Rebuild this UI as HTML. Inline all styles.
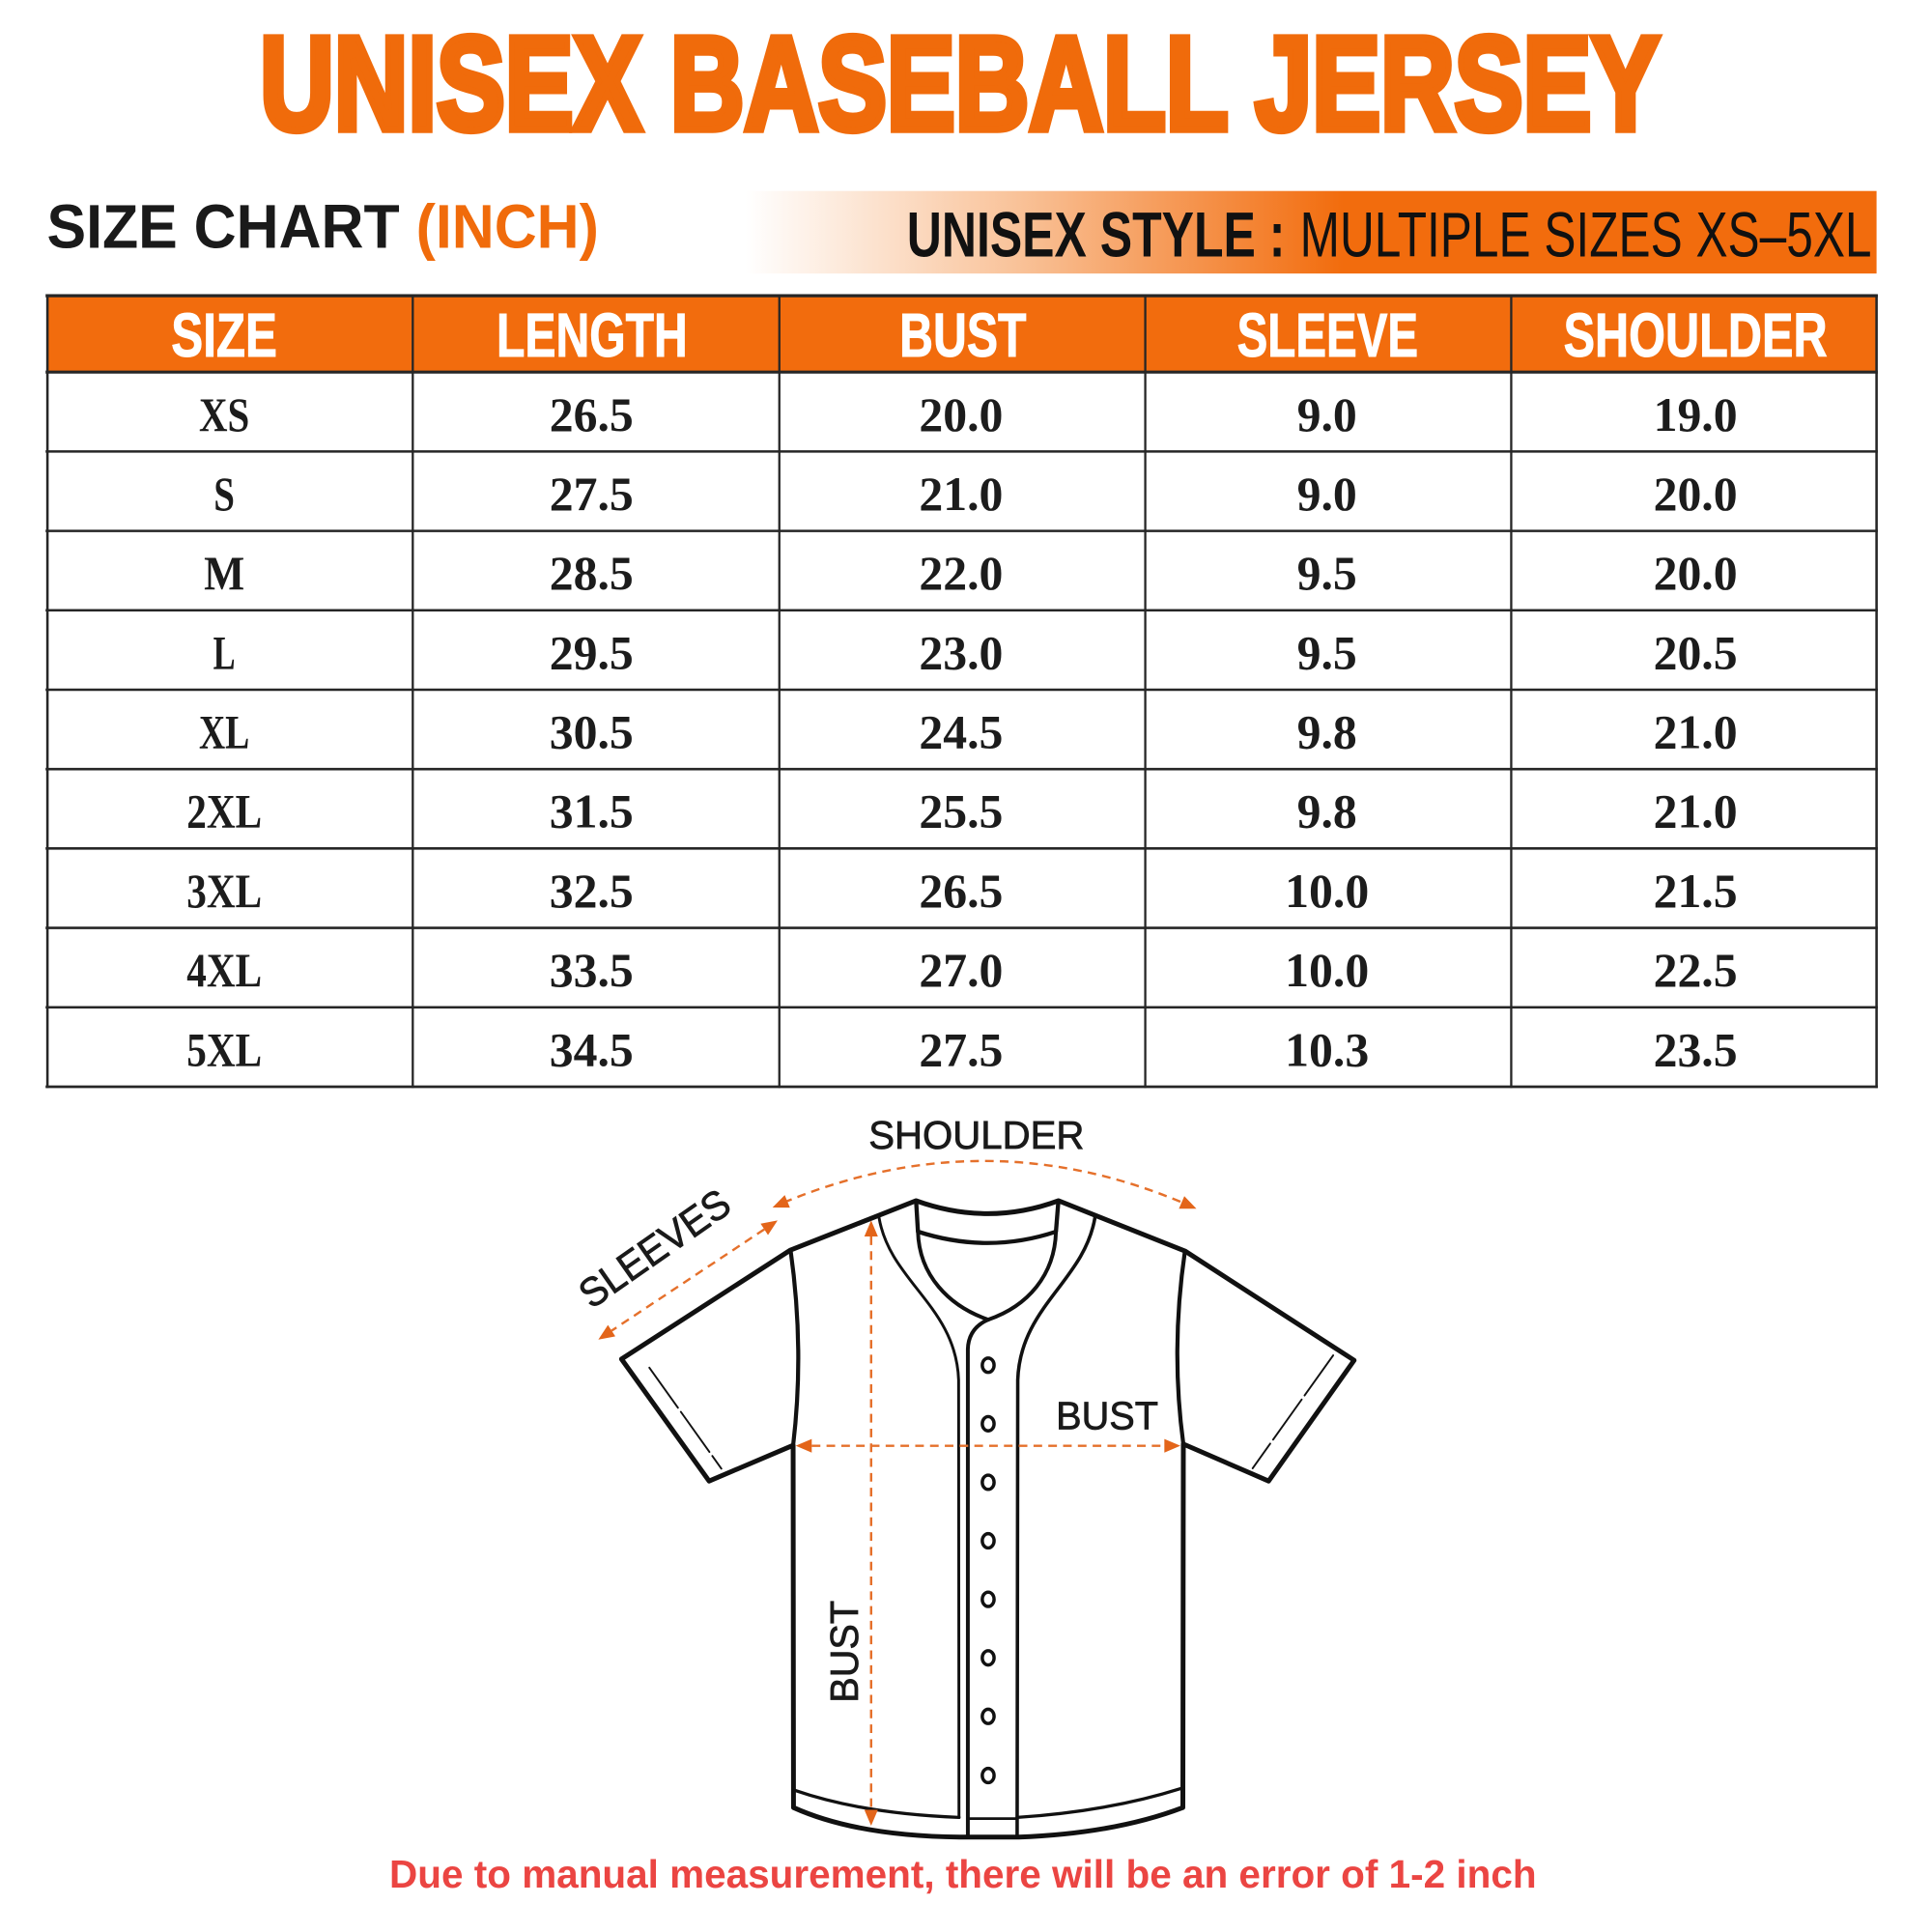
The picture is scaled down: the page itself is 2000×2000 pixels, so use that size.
<!DOCTYPE html>
<html>
<head>
<meta charset="utf-8">
<style>
html,body{margin:0;padding:0;background:#ffffff;width:2000px;height:2000px;overflow:hidden}
svg{display:block}
</style>
</head>
<body>
<svg width="2000" height="2000" viewBox="0 0 1568 1568" xmlns="http://www.w3.org/2000/svg">
<defs>
<linearGradient id="bar" gradientUnits="userSpaceOnUse" x1="605" y1="0" x2="1090" y2="0">
<stop offset="0" stop-color="#ffffff"/>
<stop offset="0.45" stop-color="#f9c39a"/>
<stop offset="1" stop-color="#f26c0d"/>
</linearGradient>
</defs>
<rect x="0" y="0" width="1568" height="1568" fill="#ffffff"/>

<!-- Title -->
<text x="211" y="105" font-family="'Liberation Sans', Arial, sans-serif" font-weight="bold" font-size="108" fill="#f06b0b" stroke="#f06b0b" stroke-width="6" stroke-linejoin="miter" textLength="1136" lengthAdjust="spacingAndGlyphs">UNISEX BASEBALL JERSEY</text>

<!-- Subtitle -->
<text x="38" y="201" font-family="'Liberation Sans', Arial, sans-serif" font-weight="bold" font-size="50" textLength="448" lengthAdjust="spacingAndGlyphs"><tspan fill="#1a1a1a">SIZE CHART </tspan><tspan fill="#f06b0b">(INCH)</tspan></text>

<!-- Gradient bar -->
<rect x="600" y="155" width="923" height="67" fill="url(#bar)"/>
<text x="736" y="208" font-family="'Liberation Sans', Arial, sans-serif" font-weight="bold" font-size="52" fill="#111111" textLength="307" lengthAdjust="spacingAndGlyphs">UNISEX STYLE :</text>
<text x="1055" y="208" font-family="'Liberation Sans', Arial, sans-serif" font-weight="normal" font-size="52" fill="#111111" textLength="464" lengthAdjust="spacingAndGlyphs">MULTIPLE SIZES XS–5XL</text>

<!-- Table header -->
<rect x="38" y="240" width="1485" height="62" fill="#f26c0d"/>
<g font-family="'Liberation Sans', Arial, sans-serif" font-weight="bold" font-size="50" fill="#ffffff" text-anchor="middle" stroke="#ffffff" stroke-width="0.8">
<text x="182" y="289.5" textLength="86" lengthAdjust="spacingAndGlyphs">SIZE</text>
<text x="480.5" y="289.5" textLength="155" lengthAdjust="spacingAndGlyphs">LENGTH</text>
<text x="781.5" y="289.5" textLength="103" lengthAdjust="spacingAndGlyphs">BUST</text>
<text x="1077.5" y="289.5" textLength="147" lengthAdjust="spacingAndGlyphs">SLEEVE</text>
<text x="1376" y="289.5" textLength="214" lengthAdjust="spacingAndGlyphs">SHOULDER</text>
</g>

<!-- Table grid -->
<g stroke="#262626" fill="none">
<line x1="37" y1="240" x2="1524" y2="240" stroke-width="2.6"/>
<line x1="37" y1="302" x2="1524" y2="302" stroke-width="2.4"/>
<line x1="37" y1="366.4" x2="1524" y2="366.4" stroke-width="2"/>
<line x1="37" y1="430.9" x2="1524" y2="430.9" stroke-width="2"/>
<line x1="37" y1="495.3" x2="1524" y2="495.3" stroke-width="2"/>
<line x1="37" y1="559.8" x2="1524" y2="559.8" stroke-width="2"/>
<line x1="37" y1="624.2" x2="1524" y2="624.2" stroke-width="2"/>
<line x1="37" y1="688.6" x2="1524" y2="688.6" stroke-width="2"/>
<line x1="37" y1="753.1" x2="1524" y2="753.1" stroke-width="2"/>
<line x1="37" y1="817.5" x2="1524" y2="817.5" stroke-width="2"/>
<line x1="37" y1="882" x2="1524" y2="882" stroke-width="2.2"/>
<line x1="38.5" y1="239" x2="38.5" y2="883" stroke-width="2"/>
<line x1="335" y1="239" x2="335" y2="883" stroke-width="1.8"/>
<line x1="632.5" y1="239" x2="632.5" y2="883" stroke-width="1.8"/>
<line x1="929.5" y1="239" x2="929.5" y2="883" stroke-width="1.8"/>
<line x1="1226.5" y1="239" x2="1226.5" y2="883" stroke-width="1.8"/>
<line x1="1523" y1="239" x2="1523" y2="883" stroke-width="2"/>
</g>

<!-- Table data -->
<g font-family="'Liberation Serif', 'Times New Roman', serif" font-weight="bold" font-size="39" fill="#1c1c1c" text-anchor="middle">
<text x="182" y="349.5" textLength="41" lengthAdjust="spacingAndGlyphs">XS</text>
<text x="480" y="349.5">26.5</text><text x="780" y="349.5">20.0</text><text x="1077" y="349.5">9.0</text><text x="1376" y="349.5">19.0</text>

<text x="182" y="413.9" textLength="17" lengthAdjust="spacingAndGlyphs">S</text>
<text x="480" y="413.9">27.5</text><text x="780" y="413.9">21.0</text><text x="1077" y="413.9">9.0</text><text x="1376" y="413.9">20.0</text>

<text x="182" y="478.4" textLength="33" lengthAdjust="spacingAndGlyphs">M</text>
<text x="480" y="478.4">28.5</text><text x="780" y="478.4">22.0</text><text x="1077" y="478.4">9.5</text><text x="1376" y="478.4">20.0</text>

<text x="182" y="542.8" textLength="18" lengthAdjust="spacingAndGlyphs">L</text>
<text x="480" y="542.8">29.5</text><text x="780" y="542.8">23.0</text><text x="1077" y="542.8">9.5</text><text x="1376" y="542.8">20.5</text>

<text x="182" y="607.3" textLength="41" lengthAdjust="spacingAndGlyphs">XL</text>
<text x="480" y="607.3">30.5</text><text x="780" y="607.3">24.5</text><text x="1077" y="607.3">9.8</text><text x="1376" y="607.3">21.0</text>

<text x="182" y="671.7" textLength="61" lengthAdjust="spacingAndGlyphs">2XL</text>
<text x="480" y="671.7">31.5</text><text x="780" y="671.7">25.5</text><text x="1077" y="671.7">9.8</text><text x="1376" y="671.7">21.0</text>

<text x="182" y="736.1" textLength="61" lengthAdjust="spacingAndGlyphs">3XL</text>
<text x="480" y="736.1">32.5</text><text x="780" y="736.1">26.5</text><text x="1077" y="736.1">10.0</text><text x="1376" y="736.1">21.5</text>

<text x="182" y="800.6" textLength="61" lengthAdjust="spacingAndGlyphs">4XL</text>
<text x="480" y="800.6">33.5</text><text x="780" y="800.6">27.0</text><text x="1077" y="800.6">10.0</text><text x="1376" y="800.6">22.5</text>

<text x="182" y="865" textLength="61" lengthAdjust="spacingAndGlyphs">5XL</text>
<text x="480" y="865">34.5</text><text x="780" y="865">27.5</text><text x="1077" y="865">10.3</text><text x="1376" y="865">23.5</text>
</g>

<!-- Jersey drawing -->
<g fill="none" stroke="#111111" stroke-linejoin="round" stroke-linecap="round">
<!-- outline -->
<path d="M743.5 974.5 L641.6 1014.5 L504.4 1103 L575.5 1202 L643.7 1173 L644 1467 Q695 1490 778.7 1491 L827 1491 Q905 1488 960 1467 L960.4 1172 L1029.6 1202 L1099 1104 L961.7 1015.3 L859 974.5 Q802 995.5 743.5 974.5 Z" stroke-width="3.9" fill="#ffffff"/>
<!-- body sides upper -->
<path d="M641.6 1014.5 Q653 1095 643.7 1173" stroke-width="3.3"/>
<path d="M961.7 1015.3 Q950 1095 960.4 1172" stroke-width="3.3"/>
<!-- collar -->
<path d="M743.5 974.5 L745 999.6 Q802 1018 857 999.6 L859 974.5" stroke-width="3.4"/>
<path d="M745 999.6 C746 1035 770 1060 802 1071" stroke-width="3.1"/>
<path d="M857 999.6 C856 1035 834 1060 802 1071" stroke-width="3.1"/>
<!-- placket -->
<path d="M713.4 988 C722 1040 776 1060 778 1120 L778.3 1475" stroke-width="2.3"/>
<path d="M802 1071 Q786 1078 785.5 1095 L785.5 1491" stroke-width="3.1"/>
<path d="M888.7 988 C880 1040 828 1060 826 1120 L825.5 1491" stroke-width="2.8"/>
<path d="M785.5 1476 L825.5 1476" stroke-width="2.2"/>
<!-- inner hem -->
<path d="M645 1453 Q700 1472 778.3 1475" stroke-width="2.6"/>
<path d="M957.8 1451.7 Q900 1470 825.5 1475" stroke-width="2.6"/>
<!-- sleeve hems -->
<path d="M527 1110 L585.5 1192" stroke-width="1.5" stroke-dasharray="40 4"/>
<path d="M1082 1100 L1016.6 1191.7" stroke-width="1.5" stroke-dasharray="40 4"/>
<!-- buttons -->
<g stroke-width="2.7">
<ellipse cx="802" cy="1108" rx="4.8" ry="5.8"/>
<ellipse cx="802" cy="1155.5" rx="4.8" ry="5.8"/>
<ellipse cx="802" cy="1203" rx="4.8" ry="5.8"/>
<ellipse cx="802" cy="1250.5" rx="4.8" ry="5.8"/>
<ellipse cx="802" cy="1298" rx="4.8" ry="5.8"/>
<ellipse cx="802" cy="1345.5" rx="4.8" ry="5.8"/>
<ellipse cx="802" cy="1393" rx="4.8" ry="5.8"/>
<ellipse cx="802" cy="1441" rx="4.8" ry="5.8"/>
</g>
</g>

<!-- measurement arrows -->
<g fill="none" stroke="#e5702b" stroke-width="1.9" stroke-dasharray="7 5">
<path d="M636 976 Q800 908 962 977"/>
<path d="M620.3 997.7 L496.4 1080"/>
<path d="M658.8 1173.4 L945 1173.4"/>
<path d="M707 1003.5 L707 1468.8"/>
</g>
<g fill="#e3651a" stroke="none">
<polygon points="627,980 641.1,980.1 636.9,969.9"/>
<polygon points="971,981 956.8,981 961.2,970.8"/>
<polygon points="631.1,990.5 623.3,1002.3 617.3,993.1"/>
<polygon points="485.6,1087.2 499.4,1084.6 493.4,1075.4"/>
<polygon points="645.8,1173.4 658.8,1167.9 658.8,1178.9"/>
<polygon points="958,1173.4 945,1167.9 945,1178.9"/>
<polygon points="707,990.5 701.5,1003.5 712.5,1003.5"/>
<polygon points="707,1481.8 701.5,1468.8 712.5,1468.8"/>
</g>

<!-- labels -->
<g font-family="'Liberation Sans', Arial, sans-serif" font-size="32" fill="#1a1a1a" stroke="#1a1a1a" stroke-width="0.6">
<text x="705" y="932" textLength="175" lengthAdjust="spacingAndGlyphs">SHOULDER</text>
<text x="857" y="1160" textLength="83" lengthAdjust="spacingAndGlyphs">BUST</text>
<text transform="translate(696,1382) rotate(-90)" x="0" y="0" textLength="83" lengthAdjust="spacingAndGlyphs">BUST</text>
<text transform="translate(480,1063) rotate(-35)" x="0" y="0" font-size="33" textLength="141" lengthAdjust="spacingAndGlyphs">SLEEVES</text>
</g>

<!-- footer -->
<text x="316" y="1532" font-family="'Liberation Sans', Arial, sans-serif" font-weight="bold" font-size="32" fill="#eb4542" textLength="931" lengthAdjust="spacingAndGlyphs">Due to manual measurement, there will be an error of 1-2 inch</text>
</svg>
</body>
</html>
